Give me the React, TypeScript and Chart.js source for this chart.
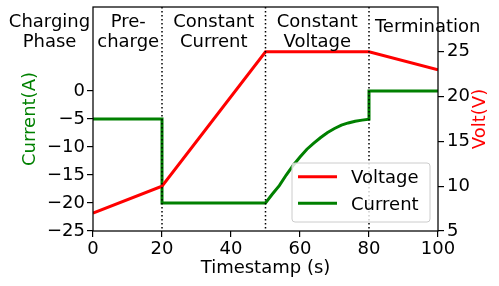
import React, { useEffect, useRef } from "react";
import { Chart, registerables } from "chart.js";

Chart.register(...registerables);

// ---- data ----
const TIME_V = [0, 20, 50, 80, 100];
const VOLTAGE = [7, 10, 25, 25, 23];

const TIME_I = [0, 20, 20, 50, 52, 54, 56, 58, 60, 62, 64, 66, 68, 70, 72, 74, 76, 78, 80, 80, 100];
const CURRENT = [-5, -5, -20, -20, -18.4, -16.9, -15.0, -13.3, -11.8, -10.4, -9.3, -8.3, -7.4, -6.7, -6.1, -5.7, -5.4, -5.2, -5.05, 0, 0];

const CURRENT_TICKS = [-25, -20, -15, -10, -5, 0];
const VOLT_TICKS = [5, 10, 15, 20, 25];
const X_TICKS = [0, 20, 40, 60, 80, 100];

const PHASE_BOUNDS = [20, 50, 80];
const PHASE_LABELS: { t: number; lines: string[] }[] = [
  { t: 10.2, lines: ["Pre-", "charge"] },
  { t: 35, lines: ["Constant", "Current"] },
  { t: 65, lines: ["Constant", "Voltage"] },
];
const TERMINATION = { t: 97, text: "Termination" };
const PHASE_TITLE = ["Charging", "Phase"];

const FONT = "DejaVu Sans";
const FS = 18;

function fmt(v: number) {
  return v < 0 ? "\u2212" + String(-v) : String(v);
}

export default function App() {
  const ref = useRef<HTMLCanvasElement | null>(null);

  useEffect(() => {
    document.body.style.margin = "0";
    const canvas = ref.current!;
    const overlay = {
      id: "overlay",
      afterDatasetsDraw(chart: any) {
        const ctx = chart.ctx as CanvasRenderingContext2D;
        const { left, right, top, bottom } = chart.chartArea;
        const xs = chart.scales.x;
        ctx.save();
        // dotted phase boundaries
        ctx.strokeStyle = "#000";
        ctx.lineWidth = 1.5;
        ctx.setLineDash([1.5, 2.5]);
        for (const b of PHASE_BOUNDS) {
          const px = xs.getPixelForValue(b);
          ctx.beginPath();
          ctx.moveTo(px, top);
          ctx.lineTo(px, bottom);
          ctx.stroke();
        }
        ctx.setLineDash([]);
        // frame
        ctx.lineWidth = 1.25;
        ctx.strokeRect(left, top, right - left, bottom - top);

        // phase labels
        ctx.fillStyle = "#000";
        ctx.font = `${FS}px "${FONT}"`;
        ctx.textAlign = "center";
        ctx.textBaseline = "alphabetic";
        const b1 = 27, b2 = 46.5;
        ctx.fillText(PHASE_TITLE[0], 49.5, b1);
        ctx.fillText(PHASE_TITLE[1], 49.5, b2);
        for (const p of PHASE_LABELS) {
          const px = xs.getPixelForValue(p.t);
          ctx.fillText(p.lines[0], px, b1);
          ctx.fillText(p.lines[1], px, b2);
        }
        ctx.fillText(TERMINATION.text, xs.getPixelForValue(TERMINATION.t), 31.5);

        // axis titles
        ctx.save();
        ctx.translate(35, (top + bottom) / 2);
        ctx.rotate(-Math.PI / 2);
        ctx.fillStyle = "green";
        ctx.fillText("Current(A)", 0, 0);
        ctx.restore();
        ctx.save();
        ctx.translate(485, (top + bottom) / 2);
        ctx.rotate(-Math.PI / 2);
        ctx.fillStyle = "red";
        ctx.fillText("Volt(V)", 0, 0);
        ctx.restore();
        ctx.fillStyle = "#000";
        ctx.fillText("Timestamp (s)", (left + right) / 2, 273);

        // legend
        const lx = 292, ly = 163, lw = 138, lh = 59, r = 3;
        ctx.beginPath();
        ctx.moveTo(lx + r, ly);
        ctx.lineTo(lx + lw - r, ly);
        ctx.quadraticCurveTo(lx + lw, ly, lx + lw, ly + r);
        ctx.lineTo(lx + lw, ly + lh - r);
        ctx.quadraticCurveTo(lx + lw, ly + lh, lx + lw - r, ly + lh);
        ctx.lineTo(lx + r, ly + lh);
        ctx.quadraticCurveTo(lx, ly + lh, lx, ly + lh - r);
        ctx.lineTo(lx, ly + r);
        ctx.quadraticCurveTo(lx, ly, lx + r, ly);
        ctx.closePath();
        ctx.fillStyle = "rgba(255,255,255,0.8)";
        ctx.fill();
        ctx.strokeStyle = "#cccccc";
        ctx.lineWidth = 1;
        ctx.stroke();
        const items = [
          { label: chart.data.datasets[0].label, color: chart.data.datasets[0].borderColor, y: 176.7, base: 183.3 },
          { label: chart.data.datasets[1].label, color: chart.data.datasets[1].borderColor, y: 203.3, base: 210.3 },
        ];
        ctx.textAlign = "left";
        for (const it of items) {
          ctx.strokeStyle = it.color;
          ctx.lineWidth = 3;
          ctx.beginPath();
          ctx.moveTo(298, it.y);
          ctx.lineTo(337, it.y);
          ctx.stroke();
          ctx.fillStyle = "#000";
          ctx.fillText(it.label, 351, it.base);
        }
        ctx.restore();
      },
    };

    const tickFont = { family: FONT, size: FS };
    const grid = { display: true, drawOnChartArea: false, drawTicks: true, tickLength: 6, color: "#000", lineWidth: 1.2 };

    const chart = new Chart(canvas, {
      type: "line",
      data: {
        datasets: [
          {
            label: "Voltage",
            data: TIME_V.map((t, i) => ({ x: t, y: VOLTAGE[i] })),
            borderColor: "#ff0000",
            backgroundColor: "#ff0000",
            borderWidth: 3,
            pointRadius: 0,
            yAxisID: "y2",
            tension: 0,
          },
          {
            label: "Current",
            data: TIME_I.map((t, i) => ({ x: t, y: CURRENT[i] })),
            borderColor: "#008000",
            backgroundColor: "#008000",
            borderWidth: 3,
            pointRadius: 0,
            yAxisID: "y",
            tension: 0,
          },
        ],
      },
      options: {
        responsive: false,
        animation: false,
        layout: { padding: { top: 7, left: 0, right: 0, bottom: 0 } },
        plugins: { legend: { display: false }, tooltip: { enabled: false } },
        scales: {
          x: {
            type: "linear",
            min: 0,
            max: 100,
            grid,
            border: { display: false },
            ticks: { font: tickFont, color: "#000", padding: 2, maxRotation: 0, callback: (v: any) => fmt(Number(v)) },
            afterBuildTicks: (s: any) => { s.ticks = X_TICKS.map((v) => ({ value: v })); },
            afterFit: (s: any) => { s.height = 55; s.paddingLeft = 0; s.paddingRight = 0; },
          },
          y: {
            type: "linear",
            position: "left",
            min: -25,
            max: 15,
            grid,
            border: { display: false },
            ticks: { font: tickFont, color: "#000", padding: 2, callback: (v: any) => fmt(Number(v)) },
            afterBuildTicks: (s: any) => { s.ticks = CURRENT_TICKS.map((v) => ({ value: v })); },
            afterFit: (s: any) => { s.width = 93; s.paddingTop = 0; s.paddingBottom = 0; },
          },
          y2: {
            type: "linear",
            position: "right",
            min: 5,
            max: 30,
            grid,
            border: { display: false },
            ticks: { font: tickFont, color: "#000", padding: 3, callback: (v: any) => fmt(Number(v)) },
            afterBuildTicks: (s: any) => { s.ticks = VOLT_TICKS.map((v) => ({ value: v })); },
            afterFit: (s: any) => { s.width = 61; s.paddingTop = 0; s.paddingBottom = 0; },
          },
        },
      } as any,
      plugins: [overlay],
    });
    return () => chart.destroy();
  }, []);

  return (
    <div style={{ position: "fixed", left: 0, top: 0, width: 499, height: 286 }}>
      <canvas ref={ref} width={499} height={286} style={{ width: 499, height: 286 }} />
    </div>
  );
}
